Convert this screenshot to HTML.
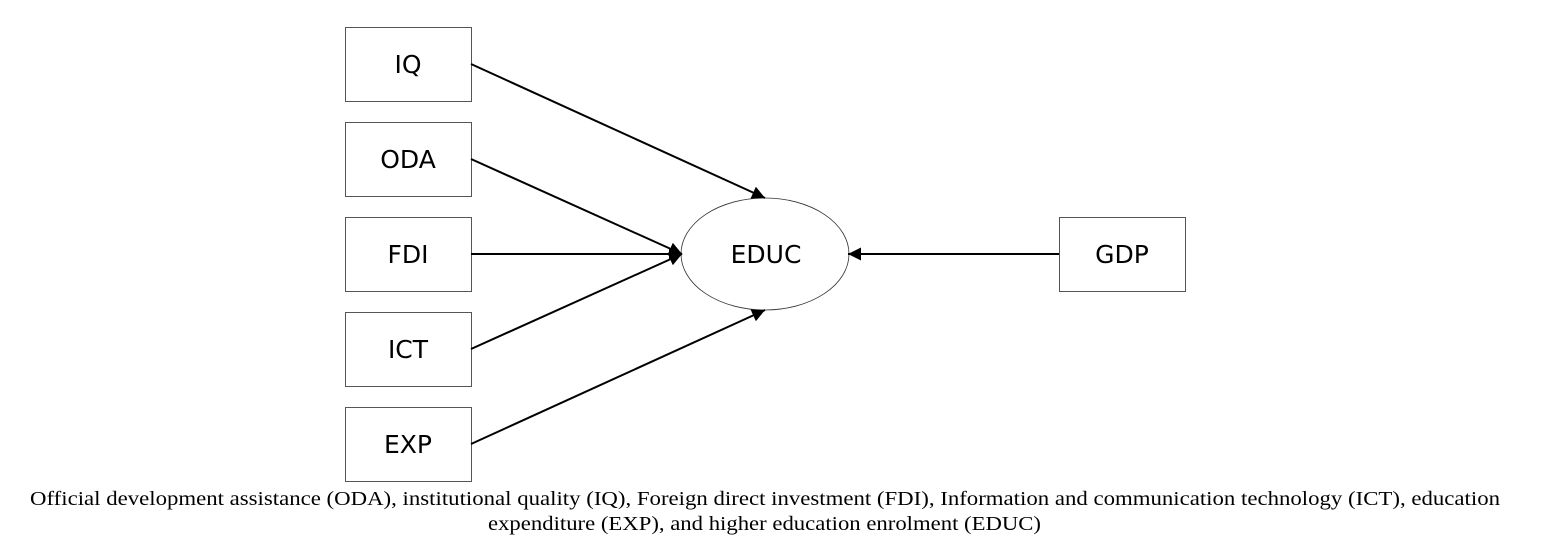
<!DOCTYPE html>
<html><head><meta charset="utf-8"><style>
html,body{margin:0;padding:0;background:#fff;}
svg{display:block}
</style></head><body>
<svg width="1552" height="538" viewBox="0 0 1552 538" xmlns="http://www.w3.org/2000/svg">
<defs>
<marker id="a" markerWidth="14" markerHeight="14" refX="13" refY="6.5" orient="auto" markerUnits="userSpaceOnUse">
<path d="M0,0 L13,6.5 L0,13 z" fill="#000"/>
</marker>
</defs>
<g fill="#fff" stroke="#555" stroke-width="1">
<rect x="345.5" y="27.5" width="126" height="74"/>
<rect x="345.5" y="122.5" width="126" height="74"/>
<rect x="345.5" y="217.5" width="126" height="74"/>
<rect x="345.5" y="312.5" width="126" height="74"/>
<rect x="345.5" y="407.5" width="126" height="74"/>
<rect x="1059.5" y="217.5" width="126" height="74"/>
</g>
<ellipse cx="765" cy="254" rx="84" ry="56" fill="#fff" stroke="#333" stroke-width="0.8"/>
<g stroke="#000" stroke-width="2" marker-end="url(#a)">
<line x1="471" y1="64" x2="765" y2="198"/>
<line x1="471" y1="159" x2="682" y2="254"/>
<line x1="471" y1="254" x2="682" y2="254"/>
<line x1="471" y1="349" x2="682" y2="254"/>
<line x1="471" y1="444" x2="765" y2="310"/>
<line x1="1059" y1="254" x2="848" y2="254"/>
</g>
<g font-family="'DejaVu Sans','Liberation Sans',sans-serif" font-size="25" text-anchor="middle" fill="#000">
<text x="408" y="73">IQ</text>
<text x="408" y="168">ODA</text>
<text x="408" y="263">FDI</text>
<text x="408" y="358">ICT</text>
<text x="408" y="453">EXP</text>
<text x="766" y="263">EDUC</text>
<text x="1122" y="263">GDP</text>
</g>
<g font-family="'Liberation Serif',serif" font-size="20" fill="#000">
<text x="30" y="505" textLength="1470" lengthAdjust="spacingAndGlyphs">Official development assistance (ODA), institutional quality (IQ), Foreign direct investment (FDI), Information and communication technology (ICT), education</text>
<text x="488" y="530" textLength="553" lengthAdjust="spacingAndGlyphs">expenditure (EXP), and higher education enrolment (EDUC)</text>
</g>
</svg>
</body></html>
